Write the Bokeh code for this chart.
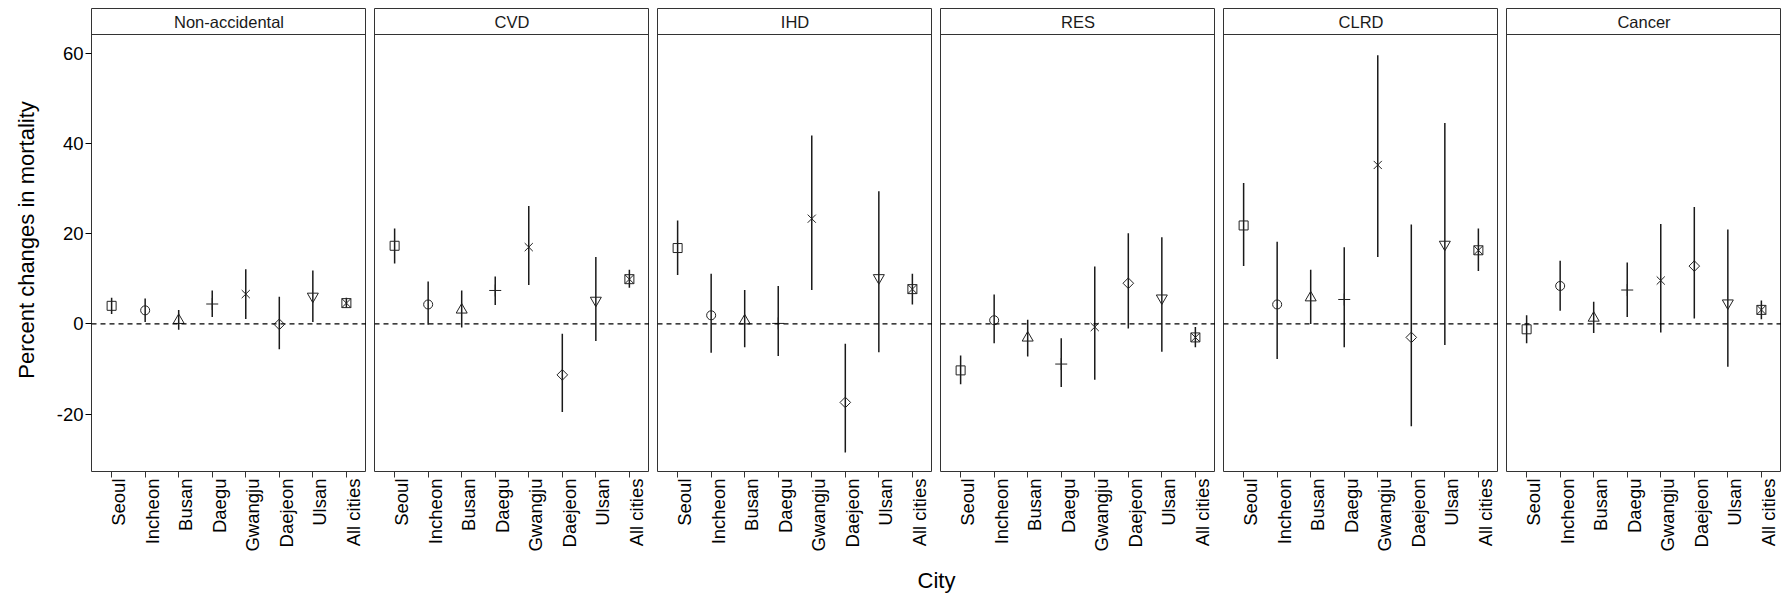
import math
from bokeh.plotting import figure
from bokeh.models import (ColumnDataSource, Range1d, FixedTicker, Span, Label, LinearAxis)
from bokeh.layouts import row, column
from bokeh.embed import file_html
from bokeh.resources import INLINE
from bokeh.core.properties import value

# ---------------- data ----------------
cities = ["Seoul", "Incheon", "Busan", "Daegu", "Gwangju", "Daejeon", "Ulsan", "All cities"]
causes = ["Non-accidental", "CVD", "IHD", "RES", "CLRD", "Cancer"]

est_nonacc = [4.0, 3.0, 0.8, 4.4, 6.6, -0.1, 6.1, 4.6]
low_nonacc = [2.2, 0.4, -1.3, 1.5, 1.1, -5.6, 0.4, 3.6]
up_nonacc = [5.8, 5.6, 3.1, 7.4, 12.1, 6.0, 11.8, 5.8]

est_cvd = [17.3, 4.3, 3.1, 7.4, 17.0, -11.3, 5.2, 9.9]
low_cvd = [13.4, -0.2, -0.8, 4.2, 8.6, -19.5, -3.8, 8.0]
up_cvd = [21.1, 9.4, 7.4, 10.5, 26.1, -2.2, 14.8, 12.0]

est_ihd = [16.8, 1.9, 0.7, 0.1, 23.3, -17.4, 10.2, 7.7]
low_ihd = [10.8, -6.4, -5.2, -7.1, 7.5, -28.5, -6.3, 4.3]
up_ihd = [22.9, 11.1, 7.5, 8.4, 41.7, -4.4, 29.4, 11.1]

est_res = [-10.3, 0.8, -3.1, -8.9, -0.7, 9.0, 5.7, -3.0]
low_res = [-13.4, -4.3, -7.2, -14.0, -12.4, -1.0, -6.2, -5.2]
up_res = [-7.0, 6.5, 0.9, -3.2, 12.7, 20.1, 19.2, -0.7]

est_clrd = [21.8, 4.3, 5.8, 5.4, 35.2, -3.0, 17.6, 16.3]
low_clrd = [12.8, -7.8, 0.0, -5.2, 14.8, -22.7, -4.7, 11.7]
up_clrd = [31.2, 18.2, 12.0, 17.0, 59.5, 22.0, 44.5, 21.1]

est_cancer = [-1.2, 8.4, 1.3, 7.5, 9.6, 12.8, 4.6, 3.1]
low_cancer = [-4.3, 2.9, -2.0, 1.5, -1.9, 1.2, -9.5, 1.0]
up_cancer = [1.9, 14.0, 4.9, 13.6, 22.1, 25.9, 20.9, 5.2]

y_ticks = [-20, 0, 20, 40, 60]

estimates = [est_nonacc, est_cvd, est_ihd, est_res, est_clrd, est_cancer]
lowers = [low_nonacc, low_cvd, low_ihd, low_res, low_clrd, low_cancer]
uppers = [up_nonacc, up_cvd, up_ihd, up_res, up_clrd, up_cancer]

# ---------------- styles ----------------
MARKERS = ["square", "circle", "triangle", "cross", "x", "square", "inverted_triangle", "square_x"]
ANGLES = [0, 0, 0, 0, 0, math.pi / 4, 0, 0]
SIZES = [9, 9, 11, 12, 11.5, 7.5, 11, 9]

FONT = value("Liberation Sans")
BORDER = "#333333"
FRAME_W = 275
PANEL_PX = 437          # height of the data panel
STRIP_PX = 26           # height of the facet strip
Y_MIN, Y_MAX = -32.7, 64.1
px_per_unit = PANEL_PX / (Y_MAX - Y_MIN)
Y_TOP = Y_MAX + STRIP_PX / px_per_unit
LEFT0 = 91
TOP0 = 8
GAP = 8

# discrete x scale: category k sits at position k + 1, with 0.6 expansion on each side
city_pos = [k + 1 for k in range(len(cities))]
X_START, X_END = 0.4, len(cities) + 0.6
px_per_cat = FRAME_W / (X_END - X_START)
LABEL_SHIFT = 7 / px_per_cat            # labels sit just right of their tick
city_labels = {pos: c for pos, c in zip(city_pos, cities)}
blank_labels = {pos: "" for pos in city_pos}
y_overrides = {t: str(t) for t in y_ticks}

panels = []
for i, cause in enumerate(causes):
    left = LEFT0 if i == 0 else GAP
    p = figure(frame_width=FRAME_W, frame_height=PANEL_PX + STRIP_PX,
               x_range=Range1d(X_START, X_END),
               y_range=Range1d(Y_MIN, Y_TOP),
               y_axis_location="left" if i == 0 else None,
               toolbar_location=None, output_backend="svg",
               min_border_left=left, min_border_right=0,
               min_border_top=TOP0, min_border_bottom=0)
    p.grid.visible = False
    p.outline_line_color = BORDER
    p.outline_line_width = 1
    p.extra_x_ranges = {"lab": Range1d(X_START - LABEL_SHIFT, X_END - LABEL_SHIFT)}

    # facet strip: separator line + label
    p.add_layout(Span(location=Y_MAX, dimension="width", line_color=BORDER, line_width=1))
    p.add_layout(Label(x=(X_START + X_END) / 2, y=(Y_MAX + Y_TOP) / 2, text=cause,
                       text_align="center", text_baseline="middle",
                       text_font="Liberation Sans", text_font_size="16.5px",
                       text_color="#1a1a1a"))

    src = ColumnDataSource(dict(city=cities, x=city_pos, est=estimates[i], low=lowers[i],
                                up=uppers[i], marker=MARKERS, angle=ANGLES, size=SIZES))
    p.segment(x0="x", y0="low", x1="x", y1="up", source=src,
              line_color="#1a1a1a", line_width=1.5)
    p.scatter(x="x", y="est", marker="marker", angle="angle", size="size", source=src,
              fill_color=None, line_color="#222222", line_width=1)

    p.add_layout(Span(location=0, dimension="width", line_color="black",
                      line_width=1.2, line_dash="5 4"))

    # main x axis: tick marks only
    xa = p.xaxis[0]
    xa.ticker = FixedTicker(ticks=city_pos)
    xa.major_label_overrides = blank_labels
    xa.major_label_orientation = math.pi / 2
    xa.major_label_standoff = 0
    xa.axis_line_color = None
    xa.major_tick_line_color = BORDER
    xa.major_tick_out = 6
    xa.major_tick_in = 0
    xa.minor_tick_line_color = None

    # label axis: city names set just right of their ticks
    la = LinearAxis(x_range_name="lab", ticker=FixedTicker(ticks=city_pos),
                    major_label_overrides=city_labels)
    la.major_label_orientation = math.pi / 2
    la.major_label_text_font = "Liberation Sans"
    la.major_label_text_font_size = "18.5px"
    la.major_label_text_color = "black"
    la.major_label_standoff = 1
    la.axis_line_color = None
    la.major_tick_line_color = None
    la.major_tick_out = 0
    la.major_tick_in = 0
    la.minor_tick_line_color = None
    p.add_layout(la, "below")

    if i == 0:
        ya = p.yaxis[0]
        ya.ticker = FixedTicker(ticks=y_ticks)
        ya.major_label_overrides = y_overrides
        ya.axis_label = "Percent changes in mortality"
        ya.axis_label_text_font = "Liberation Sans"
        ya.axis_label_text_font_size = "22px"
        ya.axis_label_text_font_style = "normal"
        ya.axis_label_text_color = "black"
        ya.axis_label_standoff = 15
        ya.major_label_text_font = "Liberation Sans"
        ya.major_label_text_font_size = "18.5px"
        ya.major_label_text_color = "black"
        ya.major_label_standoff = 2
        ya.axis_line_color = None
        ya.major_tick_line_color = "black"
        ya.major_tick_out = 6
        ya.major_tick_in = 0
        ya.minor_tick_line_color = None
    panels.append(p)

total_w = LEFT0 + FRAME_W + (len(causes) - 1) * (GAP + FRAME_W)
city_fig = figure(frame_width=total_w, frame_height=40,
                  x_range=Range1d(0, total_w), y_range=Range1d(0, 1),
                  x_axis_location=None, y_axis_location=None,
                  toolbar_location=None, output_backend="svg",
                  min_border_left=0, min_border_right=0,
                  min_border_top=0, min_border_bottom=0)
city_fig.grid.visible = False
city_fig.outline_line_color = None
center_x = (LEFT0 + total_w) / 2
city_fig.text(x=[center_x], y=[0.35], text=["City"], text_align="center", text_baseline="middle",
              text_font=FONT, text_font_size="22px", text_color="black")

layout = column(row(*panels, spacing=0), city_fig, spacing=0)

open("out.html", "w").write(file_html(layout, INLINE))
